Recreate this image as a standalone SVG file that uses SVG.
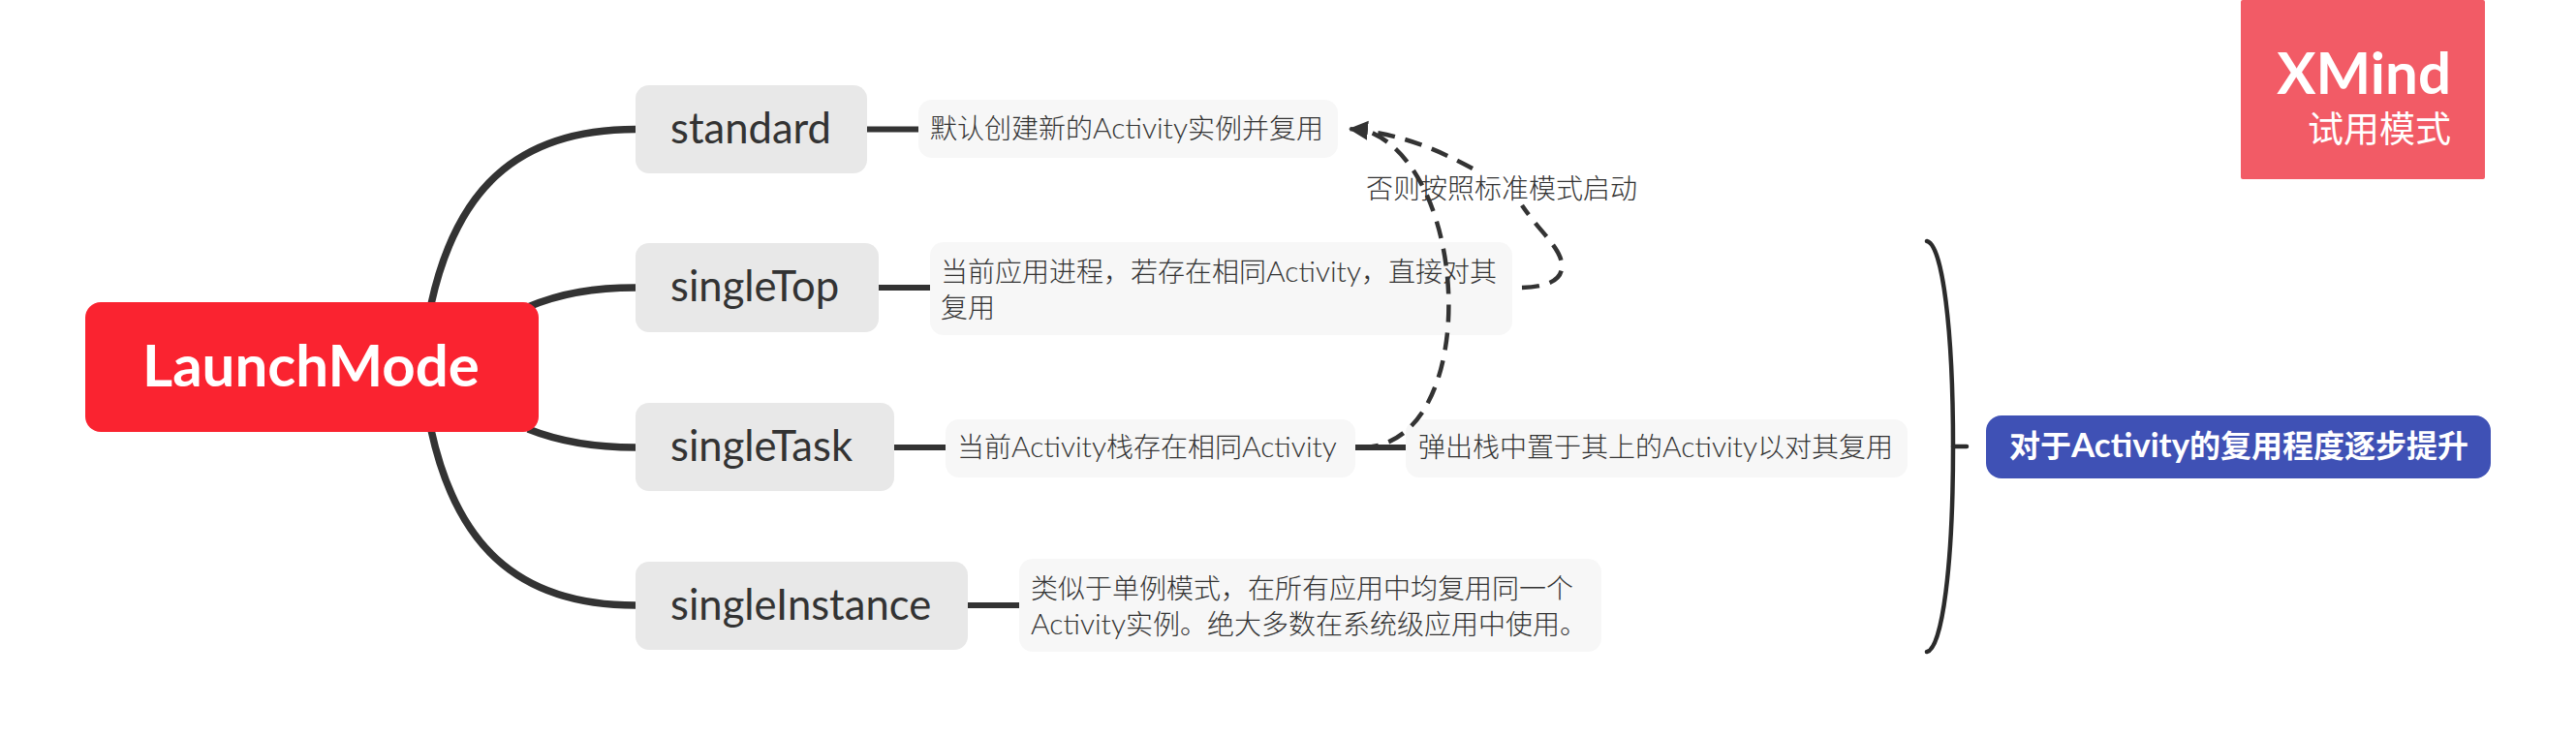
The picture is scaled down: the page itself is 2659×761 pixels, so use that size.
<svg xmlns="http://www.w3.org/2000/svg" width="2659" height="761" viewBox="0 0 2659 761">
<style>
text{font-family:"Lato","Noto Sans CJK SC",sans-serif;fill:#333}
.topic{fill:#e8e8e8}
.note{fill:#f7f7f7}
.tt{font-size:43.600px}
.nt{font-size:28px;font-weight:300}
.a{font-size:30px}
.b{fill:none;stroke:#333;stroke-width:7.500}
.s{fill:none;stroke:#333;stroke-width:6}
.d{fill:none;stroke:#333;stroke-width:4.500;stroke-dasharray:18 11}
.w{fill:#fff}
</style>
<defs><marker id="arrow" markerUnits="userSpaceOnUse" markerWidth="24" markerHeight="24" refX="20" refY="10" orient="auto"><path d="M0 0L20 10L0 20Z" fill="#333"/></marker></defs>
<rect width="2659" height="761" fill="#fff"/>
<g id="connectors">
<path class="b" d="M445 314C470 200 530 133.500 656 133.500"/>
<path class="b" d="M545 317C580 302 615 297 656 297"/>
<path class="b" d="M545 443C580 457 615 462 656 462"/>
<path class="b" d="M445 444C470 558 530 625 656 625"/>
<path class="s" d="M895 133.500H948M907 297H960M923 462H976M999 625H1052M1398 462H1451"/>
<path d="M1989 249C2005 252 2016 340 2016 461C2016 582 2005 670 1989 673" fill="none" stroke="#2b2b2b" stroke-width="4.500" stroke-linecap="round"/>
<path d="M2016 461H2030" fill="none" stroke="#2b2b2b" stroke-width="4.500" stroke-linecap="round"/>
</g>
<g id="central"><rect x="88" y="312" width="468" height="134" rx="16" fill="#fa2330"/><text class="w" x="147" y="399" font-size="60" font-weight="700" style="fill:#fff">LaunchMode</text></g>
<g id="standard"><rect class="topic" x="656" y="88" width="239" height="91" rx="14"/><text class="tt" x="692" y="148">standard</text></g>
<g id="singleTop"><rect class="topic" x="656" y="251" width="251" height="92" rx="14"/><text class="tt" x="692" y="311">singleTop</text></g>
<g id="singleTask"><rect class="topic" x="656" y="416" width="267" height="91" rx="14"/><text class="tt" x="692" y="476">singleTask</text></g>
<g id="singleInstance"><rect class="topic" x="656" y="580" width="343" height="91" rx="14"/><text class="tt" x="692" y="640">singleInstance</text></g>
<g id="note-standard"><rect class="note" x="948" y="103" width="433" height="60" rx="14"/><text class="nt" x="960" y="143">默认创建新的<tspan class="a">Activity</tspan>实例并复用</text></g>
<g id="note-singleTop"><rect class="note" x="960" y="250" width="601" height="96" rx="14"/><text class="nt" x="971" y="291">当前应用进程，若存在相同<tspan class="a">Activity</tspan>，直接对其</text><text class="nt" x="971" y="328">复用</text></g>
<g id="note-singleTask"><rect class="note" x="976" y="433" width="423" height="60" rx="14"/><text class="nt" x="988" y="472">当前<tspan class="a">Activity</tspan>栈存在相同<tspan class="a">Activity</tspan></text></g>
<g id="note-pop"><rect class="note" x="1451" y="433" width="518" height="60" rx="14"/><text class="nt" x="1464" y="472">弹出栈中置于其上的<tspan class="a">Activity</tspan>以对其复用</text></g>
<g id="note-singleInstance"><rect class="note" x="1052" y="577" width="601" height="96" rx="14"/><text class="nt" x="1064" y="618">类似于单例模式，在所有应用中均复用同一个</text><text class="nt" x="1064" y="655"><tspan class="a">Activity</tspan>实例。绝大多数在系统级应用中使用。</text></g>
<g id="relationships">
<path class="d" d="M1571 297C1600 296 1614 288 1612 272C1610 255 1590 240 1571 212"/>
<path class="d" d="M1520 174C1490 158 1450 138 1392 133" marker-end="url(#arrow)"/>
<path class="d" d="M1405 462C1530 462 1520 170 1408 134"/>
</g>
<g id="relationship-label"><text class="nt" x="1410" y="205">否则按照标准模式启动</text></g>
<g id="summary"><rect x="2050" y="429" width="521" height="65" rx="16" fill="#3f51b5"/><text x="2074" y="472" font-size="32" font-weight="700" style="fill:#fff">对于<tspan font-size="35">Activity</tspan>的复用程度逐步提升</text></g>
<g id="watermark"><rect x="2313" y="0" width="252" height="185" rx="2" fill="#f25b66"/><text x="2530" y="97" font-size="60" font-weight="700" text-anchor="end" style="fill:#fff">XMind</text><text x="2530" y="147" font-size="37" text-anchor="end" style="fill:#fff">试用模式</text></g>
</svg>
